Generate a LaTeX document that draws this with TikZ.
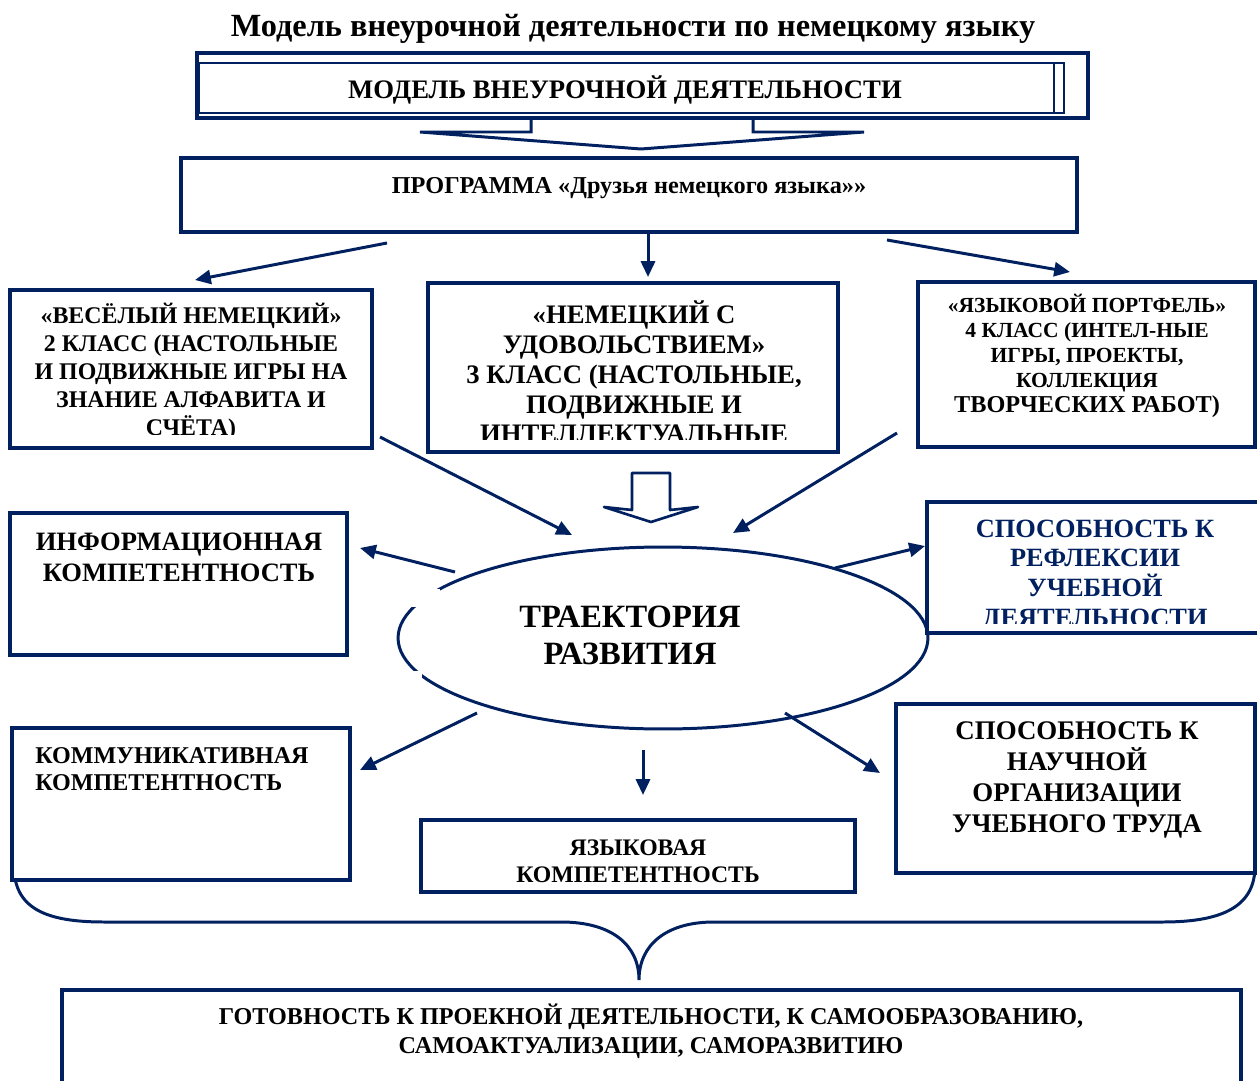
\documentclass[tikz,border=0pt]{standalone}
\usepackage{fontspec}
\setmainfont{Liberation Serif}
\usetikzlibrary{arrows.meta,shapes.geometric,fit}

\definecolor{navy}{RGB}{0,32,96}

\tikzset{
  box/.style={draw=navy, line width=1.8pt, fill=white, inner sep=0pt},
  txt/.style={align=center, inner sep=0pt},
  arr/.style={draw=navy, line width=1.7pt, -{Triangle[length=9pt,width=8pt]}},
}

\begin{document}
\begin{tikzpicture}[x=0.02cm, y=-0.02cm]
  \useasboundingbox (0,0) rectangle (1257,1081);

  \node[txt, font=\bfseries\fontsize{18.4}{21}\selectfont] (title) at (633,29)
    {Модель внеурочной деятельности по немецкому языку};

  % wide arrow under the model
  \draw[navy, line width=1.7pt, fill=white, line join=miter]
    (531,100) -- (531,132) -- (420,132) -- (641,149) -- (864,132) -- (753,132) -- (753,100);

  \node[box, fit={(197,53) (1088,118)}] (model) {};
  \draw[navy, line width=1.3pt] (199,63) rectangle (1064,113) (1054,63) -- (1054,113);
  \node[txt, font=\bfseries\fontsize{15.2}{17}\selectfont] (modeltxt) at (625,90)
    {МОДЕЛЬ ВНЕУРОЧНОЙ ДЕЯТЕЛЬНОСТИ};

  \node[box, fit={(181,158) (1077,232)}] (prog) {};
  \node[txt, font=\bfseries\fontsize{13.8}{16}\selectfont] (progtxt) at (629,188)
    {ПРОГРАММА «Друзья немецкого языка»»};

  % the three courses
  \node[box, fit={(10,290) (372,448)}] (kl2) {};
  \begin{scope}
    \clip (10,290) rectangle (372,434);
    \node[txt, font=\bfseries\fontsize{13.6}{15.9}\selectfont] (kl2txt) at (191,372)
      {«ВЕСЁЛЫЙ НЕМЕЦКИЙ»\\2 КЛАСС (НАСТОЛЬНЫЕ\\И ПОДВИЖНЫЕ ИГРЫ НА\\ЗНАНИЕ АЛФАВИТА И\\СЧЁТА)};
  \end{scope}

  \node[box, fit={(428,283) (838,452)}] (kl3) {};
  \begin{scope}
    \clip (428,283) rectangle (838,439);
    \node[txt, font=\bfseries\fontsize{15.2}{17}\selectfont] (kl3txt) at (634,372)
      {«НЕМЕЦКИЙ С\\УДОВОЛЬСТВИЕМ»\\3 КЛАСС (НАСТОЛЬНЫЕ,\\ПОДВИЖНЫЕ И\\ИНТЕЛЛЕКТУАЛЬНЫЕ};
  \end{scope}

  \node[box, fit={(918,282) (1255,447)}] (kl4) {};
  \node[txt, font=\bfseries\fontsize{12.25}{14.2}\selectfont] (kl4txt) at (1087,356)
    {«ЯЗЫКОВОЙ ПОРТФЕЛЬ»\\4 КЛАСС (ИНТЕЛ-НЫЕ\\ИГРЫ, ПРОЕКТЫ,\\КОЛЛЕКЦИЯ\\
     \fontsize{13.8}{16.3}\selectfont ТВОРЧЕСКИХ РАБОТ)};

  % down arrow to the trajectory
  \draw[navy, line width=1.5pt, fill=white, line join=round]
    (632,473) -- (670,473) -- (670,510) -- (698,507) -- (651,522) -- (604,507) -- (632,510) -- cycle;

  \node[draw=navy, line width=1.7pt, fill=white, ellipse, inner sep=0pt,
        minimum width=10.6cm, minimum height=3.64cm] (traj) at (663,638) {};
  \fill[white] (395,589) rectangle (440,607);
  \fill[white] (395,671) rectangle (422,690);
  \node[txt, font=\bfseries\fontsize{18.5}{21}\selectfont] (trajtxt) at (630,635)
    {ТРАЕКТОРИЯ\\РАЗВИТИЯ};

  % results
  \node[box, fit={(10,513) (347,655)}] (info) {};
  \node[txt, font=\bfseries\fontsize{15.1}{17.6}\selectfont] (infotxt) at (179,557)
    {ИНФОРМАЦИОННАЯ\\КОМПЕТЕНТНОСТЬ};

  \node[box, fit={(927,502) (1262,633)}] (refl) {};
  \begin{scope}
    \clip (927,502) rectangle (1262,623);
    \node[txt, text=navy, font=\bfseries\fontsize{15}{17}\selectfont] (refltxt) at (1095,576)
      {СПОСОБНОСТЬ К\\РЕФЛЕКСИИ\\УЧЕБНОЙ\\ДЕЯТЕЛЬНОСТИ};
  \end{scope}

  \draw[navy, line width=1.7pt] (14,866) .. controls (14,908) and (45,922) .. (104,922)
    -- (561,922) .. controls (612,922) and (639,945) .. (639,980)
    .. controls (639,945) and (666,922) .. (714,922) -- (1163,922)
    .. controls (1225,922) and (1255,905) .. (1255,866);

  \node[box, fit={(12,728) (350,880)}] (komm) {};
  \node[txt, align=left, anchor=west, font=\bfseries\fontsize{13.7}{15.3}\selectfont] (kommtxt) at (35,769)
    {КОММУНИКАТИВНАЯ\\КОМПЕТЕНТНОСТЬ};

  \node[box, fit={(421,820) (855,892)}] (lang) {};
  \begin{scope}
    \clip (421,820) rectangle (855,883);
    \node[txt, font=\bfseries\fontsize{13.5}{15.3}\selectfont] (langtxt) at (638,861)
      {ЯЗЫКОВАЯ\\КОМПЕТЕНТНОСТЬ};
  \end{scope}

  \node[box, fit={(896,704) (1255,873)}] (nauch) {};
  \node[txt, font=\bfseries\fontsize{15.3}{17.6}\selectfont] (nauchtxt) at (1077,780)
    {СПОСОБНОСТЬ К\\НАУЧНОЙ\\ОРГАНИЗАЦИИ\\УЧЕБНОГО ТРУДА};

  \node[box, fit={(62,990) (1241,1100)}] (gotov) {};
  \node[txt, font=\bfseries\fontsize{13.75}{16.4}\selectfont] (gotovtxt) at (651,1031)
    {ГОТОВНОСТЬ К ПРОЕКНОЙ ДЕЯТЕЛЬНОСТИ, К САМООБРАЗОВАНИЮ,\\САМОАКТУАЛИЗАЦИИ, САМОРАЗВИТИЮ};

  % arrow ends
  \coordinate (p1) at (387,243);  \coordinate (k2) at (195,280);
  \coordinate (p2) at (648,233);  \coordinate (k3) at (648,277);
  \coordinate (p3) at (887,240);  \coordinate (k4) at (1070,272);
  \coordinate (k2b) at (380,437); \coordinate (t1) at (572,535);
  \coordinate (k4b) at (897,433); \coordinate (t2) at (733,533);
  \coordinate (t3) at (455,572);  \coordinate (i1) at (360,548);
  \coordinate (t4) at (835,568);  \coordinate (r1) at (925,546);
  \coordinate (t5) at (477,713);  \coordinate (c1) at (360,770);
  \coordinate (t6) at (643,750);  \coordinate (l1) at (643,795);
  \coordinate (t7) at (785,713);  \coordinate (n1) at (880,773);

  \begin{scope}[every edge/.style={arr}]
    \path (p1)  edge (k2);
    \path (p2)  edge (k3);
    \path (p3)  edge (k4);
    \path (k2b) edge (t1);
    \path (k4b) edge (t2);
    \path (t3)  edge (i1);
    \path (t4)  edge (r1);
    \path (t5)  edge (c1);
    \path (t6)  edge (l1);
    \path (t7)  edge (n1);
  \end{scope}

\end{tikzpicture}
\end{document}
